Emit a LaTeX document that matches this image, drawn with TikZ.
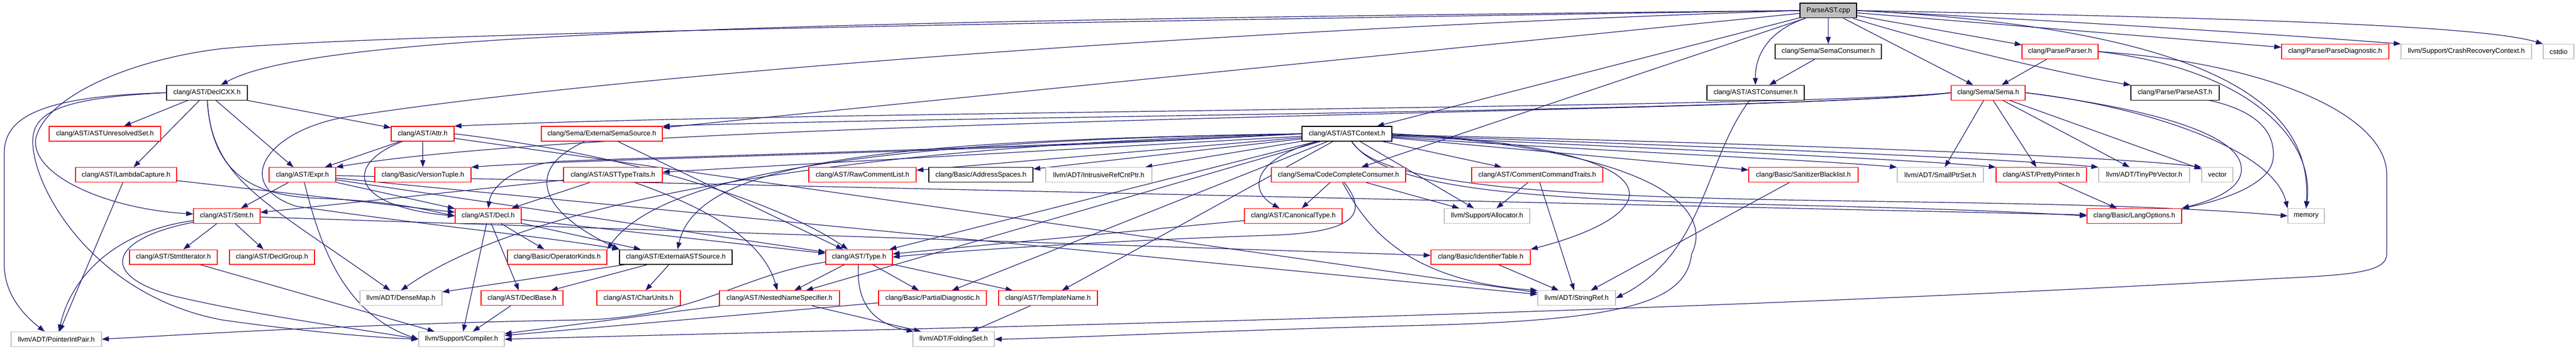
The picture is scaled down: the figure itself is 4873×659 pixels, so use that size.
\documentclass[tikz,border=0pt]{standalone}
\usepackage{fontspec}
\setmainfont{Liberation Sans}
\usetikzlibrary{arrows.meta,calc}
\definecolor{edgec}{HTML}{191970}
\definecolor{greyb}{HTML}{BFBFBF}
\pgfdeclarelayer{back}
\pgfdeclarelayer{bg}
\pgfsetlayers{back,bg,main}
\tikzset{
 box/.style={draw, fill=white, line width=0.6pt, inner sep=0pt, minimum height=13.95pt, font=\fontsize{6.5pt}{7.8pt}\selectfont, text=black},
 redb/.style={box, draw=red},
 blk/.style={box, draw=black},
 gry/.style={box, draw=greyb},
 rootbox/.style={box, draw=black, fill=greyb},
 edg/.style={draw=edgec, line width=0.6pt, -{Triangle[length=6.6pt,width=4.7pt]}},
}
\newcommand{\gnode}[6]{\node[#5, minimum width={(#3-#2)*0.5pt}] (#1) at ({(#2+#3)/2},#4) {#6};}
\begin{document}
\begin{tikzpicture}[x=0.5pt,y=-0.5pt]
\useasboundingbox (0,0) rectangle (4873,659);
\begin{pgfonlayer}{back}
\fill[white] (0,0) rectangle (4873,659);
\end{pgfonlayer}
% row 0
\gnode{root}{3405}{3512}{19.9}{rootbox}{ParseAST.cpp}
% row 1
\gnode{semacons}{3358}{3559}{97.6}{blk}{clang/Sema/SemaConsumer.h}
\gnode{parser}{3825}{3969}{97.6}{redb}{clang/Parse/Parser.h}
\gnode{parsediag}{4316}{4519}{97.6}{redb}{clang/Parse/ParseDiagnostic.h}
\gnode{crash}{4542}{4789}{97.6}{gry}{llvm/Support/CrashRecoveryContext.h}
\gnode{cstdio}{4811}{4869}{97.6}{gry}{cstdio}
% row 2
\gnode{declcxx}{315}{468}{175.3}{blk}{clang/AST/DeclCXX.h}
\gnode{astcons}{3229}{3413}{175.3}{blk}{clang/AST/ASTConsumer.h}
\gnode{sema}{3691}{3831}{175.3}{redb}{clang/Sema/Sema.h}
\gnode{parseasth}{4031}{4198}{175.3}{blk}{clang/Parse/ParseAST.h}
% row 3
\gnode{unresolved}{93}{304}{253}{redb}{clang/AST/ASTUnresolvedSet.h}
\gnode{attr}{740}{859}{253}{redb}{clang/AST/Attr.h}
\gnode{extsema}{1024}{1253}{253}{redb}{clang/Sema/ExternalSemaSource.h}
\gnode{astctx}{2463}{2633}{253}{blk}{clang/AST/ASTContext.h}
% row 4
\gnode{lambda}{143}{334}{330.7}{redb}{clang/AST/LambdaCapture.h}
\gnode{expr}{509}{635}{330.7}{redb}{clang/AST/Expr.h}
\gnode{version}{709}{891}{330.7}{redb}{clang/Basic/VersionTuple.h}
\gnode{typetraits}{1066}{1253}{330.7}{redb}{clang/AST/ASTTypeTraits.h}
\gnode{rawcomment}{1530}{1733}{330.7}{redb}{clang/AST/RawCommentList.h}
\gnode{addrspace}{1757}{1954}{330.7}{blk}{clang/Basic/AddressSpaces.h}
\gnode{intrusive}{1978}{2179}{330.7}{gry}{llvm/ADT/IntrusiveRefCntPtr.h}
\gnode{codecomplete}{2405}{2659}{330.7}{redb}{clang/Sema/CodeCompleteConsumer.h}
\gnode{commentcmd}{2784}{3032}{330.7}{redb}{clang/AST/CommentCommandTraits.h}
\gnode{sanitizer}{3308}{3515}{330.7}{redb}{clang/Basic/SanitizerBlacklist.h}
\gnode{smallptr}{3589}{3752}{330.7}{gry}{llvm/ADT/SmallPtrSet.h}
\gnode{pretty}{3776}{3947}{330.7}{redb}{clang/AST/PrettyPrinter.h}
\gnode{tinyptr}{3970}{4142}{330.7}{gry}{llvm/ADT/TinyPtrVector.h}
\gnode{vector}{4165}{4224}{330.7}{gry}{vector}
% row 5
\gnode{stmt}{366}{492}{408.4}{redb}{clang/AST/Stmt.h}
\gnode{decl}{861}{986}{408.4}{redb}{clang/AST/Decl.h}
\gnode{canonical}{2354}{2539}{408.4}{redb}{clang/AST/CanonicalType.h}
\gnode{allocator}{2732}{2894}{408.4}{gry}{llvm/Support/Allocator.h}
\gnode{langopts}{3948}{4127}{408.4}{redb}{clang/Basic/LangOptions.h}
\gnode{memory}{4328}{4397}{408.4}{gry}{memory}
% row 6
\gnode{stmtiter}{245}{411}{486.1}{redb}{clang/AST/StmtIterator.h}
\gnode{declgroup}{434}{595}{486.1}{redb}{clang/AST/DeclGroup.h}
\gnode{opkinds}{960}{1148}{486.1}{redb}{clang/Basic/OperatorKinds.h}
\gnode{extast}{1172}{1385}{486.1}{blk}{clang/AST/ExternalASTSource.h}
\gnode{type}{1562}{1688}{486.1}{redb}{clang/AST/Type.h}
\gnode{identtable}{2707}{2895}{486.1}{redb}{clang/Basic/IdentifierTable.h}
% row 7
\gnode{densemap}{681}{836}{563.8}{gry}{llvm/ADT/DenseMap.h}
\gnode{declbase}{910}{1065}{563.8}{redb}{clang/AST/DeclBase.h}
\gnode{charunits}{1129}{1287}{563.8}{redb}{clang/AST/CharUnits.h}
\gnode{nns}{1361}{1588}{563.8}{redb}{clang/AST/NestedNameSpecifier.h}
\gnode{partialdiag}{1662}{1866}{563.8}{redb}{clang/Basic/PartialDiagnostic.h}
\gnode{templatename}{1889}{2076}{563.8}{redb}{clang/AST/TemplateName.h}
\gnode{stringref}{2909}{3056}{563.8}{gry}{llvm/ADT/StringRef.h}
% row 8
\gnode{pointerint}{21}{192}{641.5}{gry}{llvm/ADT/PointerIntPair.h}
\gnode{compiler}{792}{954}{641.5}{gry}{llvm/Support/Compiler.h}
\gnode{folding}{1727}{1881}{641.5}{gry}{llvm/ADT/FoldingSet.h}

\begin{pgfonlayer}{bg}
% root
\draw[edg] (root) -- (semacons);
\draw[edg] (root) .. controls (3340,60) and (3320,110) .. (astcons);
\draw[edg] (root.west) .. controls (1500,40) and (600,60) .. (declcxx);
\draw[edg] (root.west) .. controls (1800,45) and (700,65) .. (420,92) .. controls (250,112) and (90,180) .. (68,260) .. controls (55,330) and (200,395) .. (stmt);
\draw[edg] (root.west) .. controls (2200,60) and (1100,150) .. (650,222) .. controls (500,250) and (440,350) .. (560,390) .. controls (800,425) and (1050,450) .. (extast.north west);
\draw[edg] (root) -- (astctx);
\draw[edg] (root) -- (codecomplete);
\draw[edg] (root) -- (extsema);
\draw[edg] (root) -- (sema);
\draw[edg] (root) -- (parser);
\draw[edg] (root) .. controls (3650,80) and (3900,140) .. (parseasth.north west);
\draw[edg] (root) -- (parsediag);
\draw[edg] (root.east) .. controls (4000,45) and (4350,68) .. (crash.north west);
\draw[edg] (root.east) .. controls (4300,35) and (4700,50) .. (cstdio.north west);
\draw[edg] (root.east) .. controls (4300,60) and (4370,250) .. (memory.north);
% semaconsumer
\draw[edg] (semacons) -- (astcons);
% parser
\draw[edg] (parser) -- (sema);
\draw[edg] (parser.east) .. controls (4250,130) and (4380,260) .. (memory.north);
\draw[edg] (parser.east) .. controls (4300,120) and (4515,220) .. (4515,330) -- (4515,480) .. controls (4515,515) and (4450,520) .. (4300,527) .. controls (3000,600) and (1800,618) .. (compiler.east);
% sema
\draw[edg] (sema.west) .. controls (3400,205) and (1500,210) .. (attr.north east);
\draw[edg] (sema.west) .. controls (3400,210) and (1800,220) .. (extsema.north east);
\draw[edg] (sema.west) .. controls (3400,215) and (1200,220) .. (expr.north east);
\draw[edg] (sema) -- (smallptr);
\draw[edg] (sema) -- (pretty);
\draw[edg] (sema) -- (tinyptr);
\draw[edg] (sema) -- (vector);
\draw[edg] (sema.east) .. controls (4050,200) and (4300,280) .. (memory.north west);
\draw[edg] (sema.east) .. controls (4100,210) and (4240,260) .. (4240,320) .. controls (4240,360) and (4180,380) .. (langopts.north east);
% parseast.h
\draw[edg] (parseasth) .. controls (4270,210) and (4305,250) .. (4300,300) .. controls (4295,350) and (4200,380) .. (langopts.north east);
% astconsumer
\draw[edg] (astcons) .. controls (3225,300) and (3225,480) .. (stringref.east);
% declcxx
\draw[edg] (declcxx) -- (unresolved);
\draw[edg] (declcxx) -- (lambda);
\draw[edg] (declcxx) -- (expr);
\draw[edg] (declcxx) -- (attr);
\draw[edg] (declcxx) .. controls (400,330) and (480,370) .. (600,375) .. controls (750,380) and (820,400) .. (decl.west);
\draw[edg] (declcxx) .. controls (400,340) and (500,380) .. (densemap);
\draw[edg] (declcxx.west) .. controls (80,182) and (8,220) .. (8,290) -- (8,500) .. controls (8,560) and (50,600) .. ($(pointerint.north)+(-22,0)$);
\draw[edg] (declcxx.west) .. controls (120,185) and (60,210) .. (62,270) .. controls (64,360) and (180,560) .. (420,605) .. controls (560,625) and (700,638) .. (compiler.west);
% attr
\draw[edg] (attr) -- (version);
\draw[edg] (attr) -- (expr);
\draw[edg] (attr) .. controls (650,310) and (660,390) .. (decl.west);
\draw[edg] (attr.east) .. controls (1250,300) and (1500,400) .. (type);
\draw[edg] (attr) -- (stringref);
% external sema source
\draw[edg] (extsema) .. controls (990,320) and (1020,400) .. (extast.north west);
\draw[edg] (extsema) -- (type);
% astcontext
\draw[edg] (astctx.west) .. controls (1800,290) and (1100,300) .. (version.north east);
\draw[edg] (astctx) -- (typetraits);
\draw[edg] (astctx) -- (rawcomment);
\draw[edg] (astctx) -- (addrspace);
\draw[edg] (astctx) -- (intrusive);
\draw[edg] (astctx) -- (commentcmd);
\draw[edg] (astctx) -- (sanitizer);
\draw[edg] (astctx) .. controls (3000,285) and (3400,300) .. (smallptr.north west);
\draw[edg] (astctx) .. controls (3100,280) and (3600,300) .. (pretty.north west);
\draw[edg] (astctx) .. controls (3200,275) and (3800,300) .. (tinyptr.north west);
\draw[edg] (astctx) .. controls (3300,270) and (4000,295) .. (vector.north west);
\draw[edg] (astctx) .. controls (2650,410) and (3300,370) .. (langopts.west);
\draw[edg] (astctx) .. controls (2650,420) and (3700,355) .. (memory.west);
\draw[edg] (astctx) .. controls (2370,300) and (2360,360) .. (canonical);
\draw[edg] (astctx) -- (allocator);
\draw[edg] (astctx.west) .. controls (1800,285) and (1300,295) .. (1060,305) .. controls (980,310) and (930,350) .. (decl.north);
\draw[edg] (astctx.west) .. controls (1700,265) and (1320,300) .. (extast);
\draw[edg] (astctx) -- (type);
\draw[edg] (astctx.west) .. controls (1650,265) and (1250,330) .. (opkinds.north east);
\draw[edg] (astctx.east) .. controls (3180,280) and (3170,400) .. (identtable.north east);
\draw[edg] (astctx) -- (nns);
\draw[edg] (astctx) -- (partialdiag);
\draw[edg] (astctx) -- (templatename);
\draw[edg] (astctx.west) .. controls (1600,275) and (1000,380) .. (densemap.north);
\draw[edg] (astctx.east) .. controls (3150,285) and (3240,400) .. (3200,480) .. controls (3190,570) and (3080,605) .. (2700,615) .. controls (2300,625) and (2000,640) .. (folding.east);
% lambda
\draw[edg] (lambda) -- (pointerint);
\draw[edg] (lambda) -- (decl);
% expr
\draw[edg] (expr) -- (stmt);
\draw[edg] (expr) -- (decl);
\draw[edg] (expr) -- (type);
\draw[edg] (expr) -- (langopts);
\draw[edg] (expr) -- (stringref);
\draw[edg] (expr) .. controls (600,440) and (640,590) .. (compiler.west);
% type traits
\draw[edg] (typetraits) -- (stmt);
\draw[edg] (typetraits) -- (decl);
\draw[edg] (typetraits) .. controls (1300,380) and (1440,440) .. (nns);
% stmt
\draw[edg] (stmt) -- (stmtiter);
\draw[edg] (stmt) -- (declgroup);
\draw[edg] (stmt) -- (identtable);
\draw[edg] (stmt) .. controls (200,440) and (130,540) .. ($(pointerint.north)+(5,0)$);
\draw[edg] (stmt) .. controls (210,450) and (180,520) .. (330,560) .. controls (500,600) and (700,625) .. (compiler.west);
% stmt iterator
\draw[edg] (stmtiter) -- (compiler);
% decl
\draw[edg] (decl) -- (declbase);
\draw[edg] (decl) -- (compiler);
\draw[edg] (decl) -- (opkinds);
\draw[edg] (decl) -- (extast);
\draw[edg] (decl) -- (type);
% external ast source
\draw[edg] (extast) -- (charunits);
\draw[edg] (extast) -- (declbase);
\draw[edg] (extast) -- (densemap);
% declbase
\draw[edg] (declbase) -- (compiler);
% type
\draw[edg] (type) -- (nns);
\draw[edg] (type) -- (partialdiag);
\draw[edg] (type) -- (templatename);
\draw[edg] (type) .. controls (1620,560) and (1640,610) .. (folding);
\draw[edg] (type) .. controls (1400,520) and (1320,600) .. (1100,605) .. controls (700,612) and (400,630) .. (pointerint.east);
% nested name specifier
\draw[edg] (nns) -- (compiler);
\draw[edg] (nns) -- (folding);
% partial diagnostic
\draw[edg] (partialdiag) -- (compiler);
% template name
\draw[edg] (templatename) -- (folding);
% canonical type
\draw[edg] (canonical) -- (type);
% code complete consumer
\draw[edg] (codecomplete) -- (canonical);
\draw[edg] (codecomplete) -- (allocator);
\draw[edg] (codecomplete) .. controls (2580,420) and (2650,530) .. (stringref.north west);
\draw[edg] (codecomplete) .. controls (2585,400) and (2575,440) .. (2400,445) .. controls (2100,455) and (1800,475) .. (type.east);
% comment command traits
\draw[edg] (commentcmd) -- (allocator);
\draw[edg] (commentcmd) -- (stringref);
% sanitizer
\draw[edg] (sanitizer) -- (stringref);
% pretty printer
\draw[edg] (pretty) -- (langopts);
% identifier table
\draw[edg] (identtable) -- (stringref);
\end{pgfonlayer}
\end{tikzpicture}
\end{document}
